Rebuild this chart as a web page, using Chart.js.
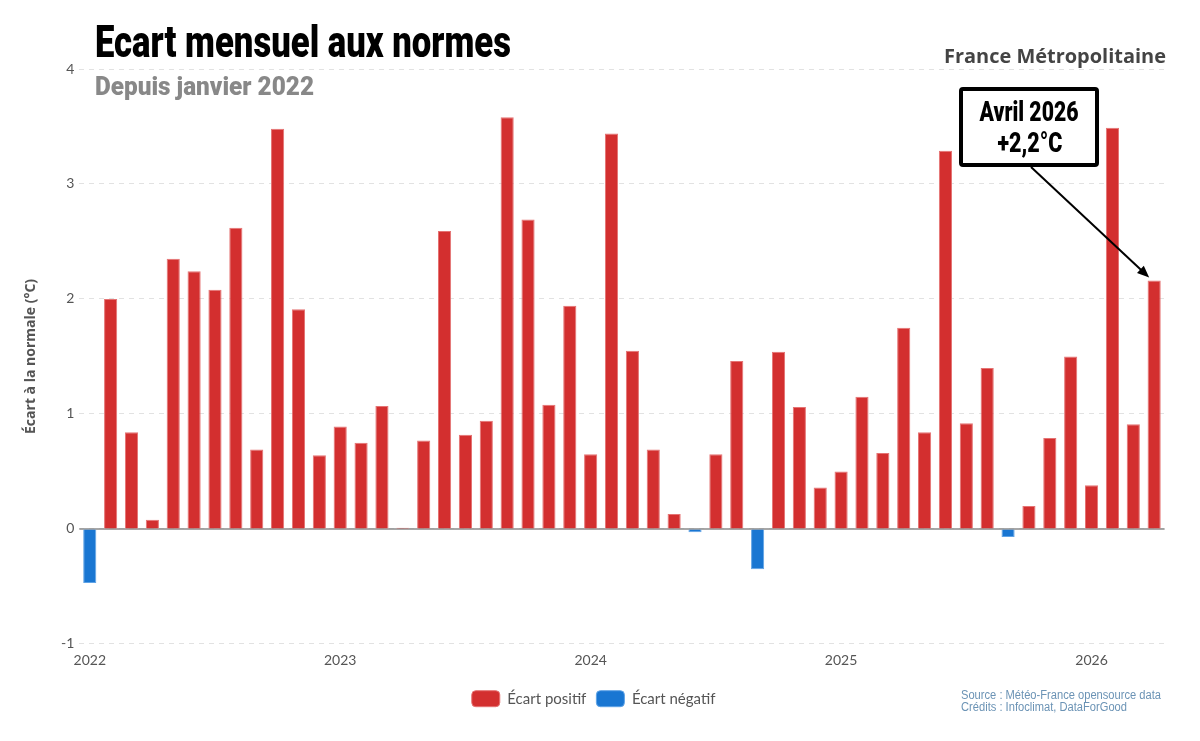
<!DOCTYPE html>
<html lang="fr">
<head>
<meta charset="UTF-8">
<title>Ecart mensuel aux normes</title>
<style>
    html, body {
        margin: 0;
        padding: 0;
        background: #fff;
    }

    .chart-box {
        position: relative;
        width: 1200px;
        height: 741px;
    }
</style>
</head>
<body>

<div class="chart-box">
    <canvas id="ecartChart"></canvas>
</div>

<script src="https://cdn.jsdelivr.net/npm/chart.js"></script>
<script>
    // Mois affichés (janvier 2022 -> avril 2026)
    const months = [
        '2022-01', '2022-02', '2022-03', '2022-04', '2022-05', '2022-06',
        '2022-07', '2022-08', '2022-09', '2022-10', '2022-11', '2022-12',
        '2023-01', '2023-02', '2023-03', '2023-04', '2023-05', '2023-06',
        '2023-07', '2023-08', '2023-09', '2023-10', '2023-11', '2023-12',
        '2024-01', '2024-02', '2024-03', '2024-04', '2024-05', '2024-06',
        '2024-07', '2024-08', '2024-09', '2024-10', '2024-11', '2024-12',
        '2025-01', '2025-02', '2025-03', '2025-04', '2025-05', '2025-06',
        '2025-07', '2025-08', '2025-09', '2025-10', '2025-11', '2025-12',
        '2026-01', '2026-02', '2026-03', '2026-04'
    ];

    // Ecart à la normale (°C)
    const ecarts = [
        -0.47, 2.00, 0.84, 0.08, 2.35, 2.24, 2.08, 2.62, 0.69, 3.48, 1.91, 0.64,
        0.89, 0.75, 1.07, 0.01, 0.77, 2.59, 0.82, 0.94, 3.58, 2.69, 1.08, 1.94,
        0.65, 3.44, 1.55, 0.69, 0.13, -0.03, 0.65, 1.46, -0.35, 1.54, 1.06, 0.36,
        0.50, 1.15, 0.66, 1.75, 0.84, 3.29, 0.92, 1.40, -0.07, 0.20, 0.79, 1.50,
        0.38, 3.49, 0.91, 2.16
    ];

    // Libellés de l'axe X (un par janvier)
    const yearTicks = ['2022', '2023', '2024', '2025', '2026'];

    const positifs = ecarts.map(v => v >= 0 ? v : null);
    const negatifs = ecarts.map(v => v < 0 ? v : null);

    const RED = '#d32f2f';
    const BLUE = '#1976d2';
    const GREY = '#555';

    // texte étiré/compressé pour tenir dans une largeur donnée (police condensée)
    function fitText(ctx, text, x, y, width, font, color, align) {
        ctx.save();
        ctx.font = font;
        ctx.fillStyle = color;
        ctx.textAlign = 'left';
        ctx.textBaseline = 'alphabetic';
        const w = ctx.measureText(text).width;
        ctx.translate(x, y);
        ctx.scale(width / w, 1);
        let startX = 0;
        if (align === 'right') startX = -w;
        if (align === 'center') startX = -w / 2;
        ctx.fillText(text, startX, 0);
        ctx.restore();
    }

    // Ligne du zéro (sous les barres)
    const zeroLine = {
        id: 'zeroLine',
        beforeDatasetsDraw(chart) {
            const { ctx, chartArea, scales } = chart;
            const y = scales.y.getPixelForValue(0);
            ctx.save();
            ctx.strokeStyle = '#8a8a8a';
            ctx.lineWidth = 1.5;
            ctx.beginPath();
            ctx.moveTo(chartArea.left, y);
            ctx.lineTo(chartArea.right, y);
            ctx.stroke();
            ctx.restore();
        }
    };

    // Titres, encadré et sources
    const decorations = {
        id: 'decorations',
        afterDraw(chart) {
            const { ctx, scales } = chart;

            fitText(ctx, 'Ecart mensuel aux normes', 95, 57, 416, '900 45px Roboto', '#000', 'left');
            fitText(ctx, 'Depuis janvier 2022', 95, 95, 219, '900 26px Roboto', '#888', 'left');
            fitText(ctx, 'France Métropolitaine', 1166, 63, 222, '700 20px "Open Sans"', '#444', 'right');

            // encadré Avril 2026
            ctx.save();
            ctx.fillStyle = '#fff';
            ctx.strokeStyle = '#000';
            ctx.lineWidth = 4;
            ctx.beginPath();
            ctx.roundRect(961, 89, 136, 76, 2);
            ctx.fill();
            ctx.stroke();
            ctx.restore();

            fitText(ctx, 'Avril 2026', 1029, 121, 99, '900 28px Roboto', '#000', 'center');
            fitText(ctx, '+2,2°C', 1030, 152, 65, '900 28px Roboto', '#000', 'center');

            // flèche vers la dernière barre
            const last = ecarts.length - 1;
            const tipX = scales.x.getPixelForValue(last) - 5;
            const tipY = scales.y.getPixelForValue(ecarts[last]) - 3;
            const fromX = 1031, fromY = 167;
            const ang = Math.atan2(tipY - fromY, tipX - fromX);
            ctx.save();
            ctx.strokeStyle = '#000';
            ctx.fillStyle = '#000';
            ctx.lineWidth = 2;
            ctx.beginPath();
            ctx.moveTo(fromX, fromY);
            ctx.lineTo(tipX - 8 * Math.cos(ang), tipY - 8 * Math.sin(ang));
            ctx.stroke();
            ctx.beginPath();
            ctx.moveTo(tipX, tipY);
            ctx.lineTo(tipX - 12 * Math.cos(ang) + 5 * Math.sin(ang), tipY - 12 * Math.sin(ang) - 5 * Math.cos(ang));
            ctx.lineTo(tipX - 12 * Math.cos(ang) - 5 * Math.sin(ang), tipY - 12 * Math.sin(ang) + 5 * Math.cos(ang));
            ctx.closePath();
            ctx.fill();
            ctx.restore();

            // sources
            fitText(ctx, 'Source : Météo-France opensource data', 961, 699, 200, '12px "Liberation Sans"', '#6b93b5', 'left');
            fitText(ctx, 'Crédits : Infoclimat, DataForGood', 961, 711, 166, '12px "Liberation Sans"', '#6b93b5', 'left');
        }
    };

    const ctx = document.getElementById('ecartChart').getContext('2d');
    const ecartChart = new Chart(ctx, {
        type: 'bar',
        data: {
            labels: months,
            datasets: [
                {
                    label: 'Écart positif',
                    data: positifs,
                    backgroundColor: RED,
                    borderColor: '#e57373',
                    borderWidth: 1
                },
                {
                    label: 'Écart négatif',
                    data: negatifs,
                    backgroundColor: BLUE,
                    borderColor: '#5fa3e6',
                    borderWidth: 1
                }
            ]
        },
        options: {
            responsive: true,
            maintainAspectRatio: false,
            animation: false,
            categoryPercentage: 1,
            barPercentage: 0.63,
            layout: {
                padding: { top: 69, left: 22.6, right: 35.4, bottom: 24.3 }
            },
            scales: {
                x: {
                    stacked: true,
                    grid: { display: false },
                    border: { display: false },
                    ticks: {
                        autoSkip: false,
                        maxRotation: 0,
                        padding: 0.6,
                        color: GREY,
                        font: { family: 'Lato', size: 14 },
                        callback: (value, index) => index % 12 === 0 ? yearTicks[index / 12] : null
                    },
                    afterFit(axis) {
                        axis.height += 10.8;
                    }
                },
                y: {
                    stacked: true,
                    min: -1,
                    max: 4,
                    ticks: {
                        stepSize: 1,
                        padding: 5,
                        color: GREY,
                        font: { family: 'Lato', size: 14 }
                    },
                    grid: {
                        color: '#e2e2e2',
                        lineWidth: 1,
                        drawTicks: false
                    },
                    border: { display: false, dash: [5, 5] },
                    title: {
                        display: true,
                        text: 'Écart à la normale (°C)',
                        color: GREY,
                        font: { family: 'Open Sans', size: 14, weight: 'bold' },
                        padding: { top: 0, bottom: 16.6 }
                    }
                }
            },
            plugins: {
                legend: {
                    position: 'bottom',
                    labels: {
                        boxWidth: 28,
                        boxHeight: 16,
                        useBorderRadius: true,
                        borderRadius: 4,
                        padding: 10,
                        color: GREY,
                        font: { family: 'Lato', size: 15 }
                    }
                },
                tooltip: { enabled: false }
            }
        },
        plugins: [zeroLine, decorations]
    });
</script>
</body>
</html>
